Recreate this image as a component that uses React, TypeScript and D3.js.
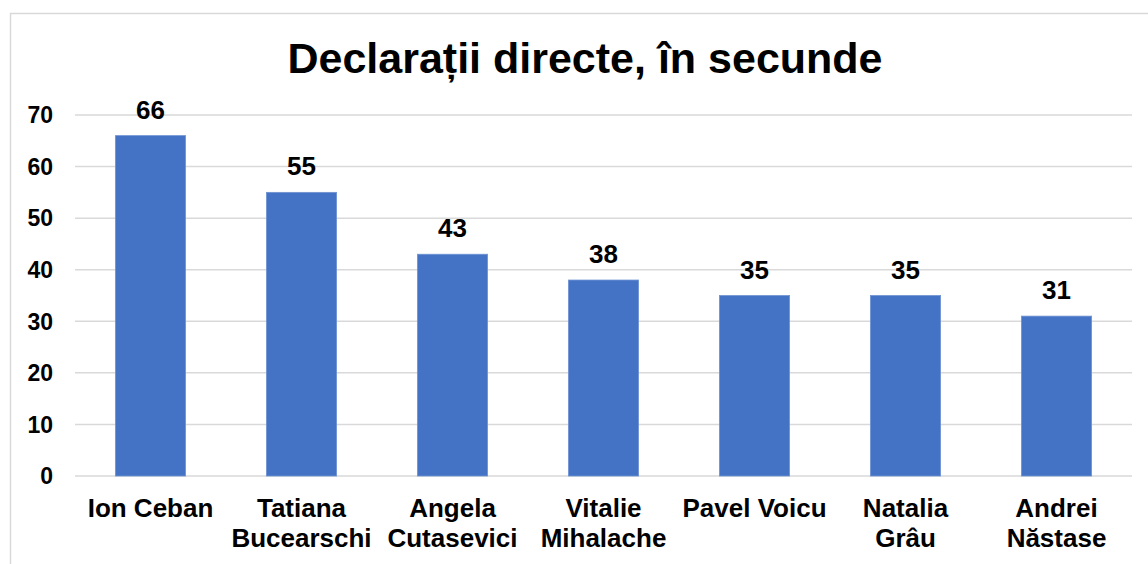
import React, { useEffect, useRef } from 'react'
import * as d3 from 'd3'

// chart values
const names = [
  ['Ion Ceban'],
  ['Tatiana', 'Bucearschi'],
  ['Angela', 'Cutasevici'],
  ['Vitalie', 'Mihalache'],
  ['Pavel Voicu'],
  ['Natalia', 'Grâu'],
  ['Andrei', 'Năstase']
]
const seconds = [66, 55, 43, 38, 35, 35, 31]
const yTicks = [0, 10, 20, 30, 40, 50, 60, 70]
const title = 'Declarații directe, în secunde'

const W = 1148
const H = 564
const FONT = 'Arial, "Liberation Sans", sans-serif'

export default function App () {
  const ref = useRef<SVGSVGElement>(null)

  useEffect(() => {
    const svg = d3.select(ref.current)
    svg.selectAll('*').remove()

    const margin = { top: 115, right: 16, bottom: 88, left: 75 }
    const innerW = W - margin.left - margin.right
    const innerH = H - margin.top - margin.bottom

    // chart border
    svg.append('rect')
      .attr('x', 10.5)
      .attr('y', 13.5)
      .attr('width', W + 20)
      .attr('height', H + 20)
      .attr('fill', 'white')
      .attr('stroke', '#d9d9d9')
      .attr('stroke-width', 1.5)

    svg.append('text')
      .attr('x', 585)
      .attr('y', 73)
      .attr('text-anchor', 'middle')
      .style('font-family', FONT)
      .style('font-weight', 'bold')
      .style('font-size', '43px')
      .text(title)

    const g = svg.append('g')
      .attr('transform', 'translate(' + margin.left + ',' + margin.top + ')')

    const x = d3.scaleBand<number>()
      .domain(d3.range(seconds.length))
      .range([0, innerW])
      .paddingInner(0.535)
      .paddingOuter(0.2675)

    const y = d3.scaleLinear()
      .domain([0, 70])
      .range([innerH, 0])

    // gridlines
    g.append('g')
      .selectAll('line')
      .data(yTicks)
      .enter()
      .append('line')
      .attr('x1', 0)
      .attr('x2', innerW)
      .attr('y1', d => y(d))
      .attr('y2', d => y(d))
      .attr('stroke', '#d9d9d9')
      .attr('stroke-width', 1.5)

    // y tick labels
    g.append('g')
      .selectAll('text')
      .data(yTicks)
      .enter()
      .append('text')
      .attr('x', -22)
      .attr('y', d => y(d))
      .attr('dy', '0.36em')
      .attr('text-anchor', 'end')
      .style('font-family', FONT)
      .style('font-weight', 'bold')
      .style('font-size', '23px')
      .text(d => d)

    // bars
    g.append('g')
      .selectAll('rect')
      .data(seconds)
      .enter()
      .append('rect')
      .attr('x', (d, i) => x(i)!)
      .attr('y', d => y(d))
      .attr('width', x.bandwidth())
      .attr('height', d => innerH - y(d))
      .attr('fill', '#4472c4')
      .attr('stroke', '#6f93d3')
      .attr('stroke-width', 0.8)

    // value labels
    g.append('g')
      .selectAll('text')
      .data(seconds)
      .enter()
      .append('text')
      .attr('x', (d, i) => x(i)! + x.bandwidth() / 2)
      .attr('y', d => y(d) - 17)
      .attr('text-anchor', 'middle')
      .style('font-family', FONT)
      .style('font-weight', 'bold')
      .style('font-size', '26px')
      .text(d => d)

    // category labels
    const cats = g.append('g')
      .selectAll('text')
      .data(names)
      .enter()
      .append('text')
      .attr('x', (d, i) => x(i)! + x.bandwidth() / 2)
      .attr('y', innerH + 41)
      .attr('text-anchor', 'middle')
      .style('font-family', FONT)
      .style('font-weight', 'bold')
      .style('font-size', '26px')

    cats.selectAll('tspan')
      .data(d => d)
      .enter()
      .append('tspan')
      .attr('x', function () { return (this.parentNode as SVGTextElement).getAttribute('x') })
      .attr('dy', (d, i) => i === 0 ? 0 : 30)
      .text(d => d)
  }, [])

  return (
    <div style={{ position: 'absolute', left: 0, top: 0, width: W, height: H, overflow: 'hidden' }}>
      <svg ref={ref} width={W} height={H} style={{ display: 'block', background: 'white' }} />
    </div>
  )
}
